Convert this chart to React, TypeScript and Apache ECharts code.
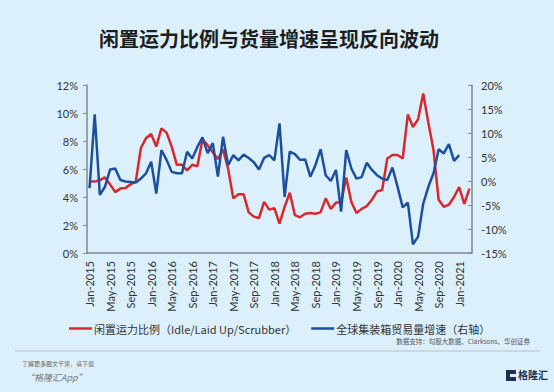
import React, { useEffect, useRef } from "react";
import * as echarts from "echarts";

const MONTHS = ["Jan", "Feb", "Mar", "Apr", "May", "Jun", "Jul", "Aug", "Sep", "Oct", "Nov", "Dec"];
const YEARS = [2015, 2016, 2017, 2018, 2019, 2020, 2021];
const LAST_MONTH_2021 = 3; // through Mar-2021

const categories: string[] = [];
for (const y of YEARS) {
  for (let i = 0; i < 12; i++) {
    if (y === 2021 && i >= LAST_MONTH_2021) break;
    categories.push(`${MONTHS[i]}-${y}`);
  }
}

const TITLE = "闲置运力比例与货量增速呈现反向波动";
const RED_NAME = "闲置运力比例（Idle/Laid Up/Scrubber）";
const BLUE_NAME = "全球集装箱贸易量增速（右轴）";
const SOURCE = "数据支持：勾股大数据、Clarksons、华创证券";

// idle capacity ratio, % (left axis)
const idleRatio = [
  5.1, 5.1, 5.2, 5.4, 4.9, 4.35, 4.6, 4.65, 4.9, 5.1,
  7.5, 8.2, 8.5, 7.6, 8.9, 8.6, 7.6, 6.3, 6.3, 5.9,
  6.3, 6.2, 8.1, 7.7, 7.2, 6.7, 7.4, 6.0, 3.9, 4.2,
  4.2, 2.9, 2.6, 2.5, 3.65, 3.1, 3.2, 2.1, 3.3, 4.3,
  2.7, 2.55, 2.8, 2.85, 2.8, 2.9, 3.9, 3.15, 3.6, 3.6,
  5.4, 3.65, 2.85, 3.15, 3.35, 3.8, 4.4, 4.5, 6.75, 7.0,
  7.0, 6.75, 9.9, 9.0, 9.55, 11.4, 9.3, 7.35, 3.8, 3.3,
  3.45, 4.0, 4.7, 3.5, 4.6,
];

// global container trade volume growth, % (right axis)
const tradeGrowth = [
  -1.5, 13.9, -2.9, -1.2, 2.4, 2.6, 0.2, -0.1, -0.2, -0.3,
  0.5, 1.6, 4.0, -2.6, 6.45, 4.4, 1.9, 1.6, 1.6, 6.1,
  4.7, 7.1, 9.1, 5.8, 7.9, 0.9, 9.2, 3.3, 5.4, 4.3,
  5.5, 4.8, 3.9, 2.4, 4.8, 5.4, 4.3, 12.0, -3.3, 6.1,
  5.6, 4.4, 4.5, 0.9, 3.3, 6.6, 1.2, 0.0, 2.3, -6.4,
  6.45, 2.6, 0.5, 0.8, 3.8, 2.3, 1.2, 0.5, 0.2, 2.8,
  -1.2, -5.5, -4.5, -13.2, -11.6, -4.7, -1.2, 1.6, 6.6, 5.75,
  7.7, 4.2, 5.4,
];

const LEFT_MIN = 0, LEFT_MAX = 12, LEFT_STEP = 2;
const RIGHT_MIN = -15, RIGHT_MAX = 20, RIGHT_STEP = 5;

const RED = "#d8282f";
const BLUE = "#1d4f9f";
const AXIS = "#7f8a90";
const LABEL = "#333333";
const FONT = "Lato, 'Noto Sans', sans-serif";
const CJK = "'Noto Sans CJK SC', sans-serif";

export default function App() {
  const ref = useRef<HTMLDivElement>(null);
  useEffect(() => {
    document.body.style.margin = "0";
    const chart = echarts.init(ref.current!, undefined, { renderer: "svg" });
    chart.setOption({
      animation: false,
      backgroundColor: "#dcf0fb",
      textStyle: { fontFamily: FONT },
      title: {
        text: TITLE,
        left: 94,
        top: 23,
        textStyle: {
          fontFamily: CJK,
          fontSize: 20,
          fontWeight: "bold",
          color: "#1e1e1e",
        },
      },
      grid: { left: 87, right: 82, top: 85, bottom: 139 },
      legend: {
        left: 64,
        top: 318,
        itemGap: 15,
        itemWidth: 23,
        itemHeight: 2.5,
        icon: "rect",
        textStyle: {
          fontFamily: CJK,
          fontSize: 11,
          color: LABEL,
          padding: [0, 0, 0, -3],
        },
        data: [RED_NAME, BLUE_NAME],
      },
      xAxis: {
        type: "category",
        data: categories,
        boundaryGap: true,
        axisLine: { lineStyle: { color: AXIS, width: 1.5 } },
        axisTick: { interval: 3, length: 3, lineStyle: { color: AXIS } },
        axisLabel: {
          interval: 3,
          rotate: 90,
          margin: 8,
          fontSize: 11,
          color: LABEL,
          fontFamily: FONT,
        },
        splitLine: { show: false },
      },
      yAxis: [
        {
          type: "value",
          min: LEFT_MIN,
          max: LEFT_MAX,
          interval: LEFT_STEP,
          axisLine: { show: true, lineStyle: { color: AXIS, width: 1.5 } },
          axisTick: { show: true, length: 4, lineStyle: { color: AXIS } },
          axisLabel: { formatter: "{value}%", fontSize: 11, color: LABEL, margin: 9, fontFamily: FONT },
          splitLine: { show: false },
        },
        {
          type: "value",
          min: RIGHT_MIN,
          max: RIGHT_MAX,
          interval: RIGHT_STEP,
          position: "right",
          axisLine: { show: true, lineStyle: { color: AXIS, width: 1.5 } },
          axisTick: { show: true, inside: true, length: 4, lineStyle: { color: AXIS } },
          axisLabel: { formatter: "{value}%", fontSize: 11, color: LABEL, margin: 9, fontFamily: FONT },
          splitLine: { show: false },
        },
      ],
      series: [
        {
          name: RED_NAME,
          type: "line",
          yAxisIndex: 0,
          data: idleRatio,
          showSymbol: false,
          symbol: "none",
          lineStyle: { color: RED, width: 2.5 },
          itemStyle: { color: RED },
        },
        {
          name: BLUE_NAME,
          type: "line",
          yAxisIndex: 1,
          data: tradeGrowth,
          showSymbol: false,
          symbol: "none",
          lineStyle: { color: BLUE, width: 2.5 },
          itemStyle: { color: BLUE },
        },
      ],
      graphic: [
        {
          type: "text",
          right: 24,
          top: 338,
          style: { text: SOURCE, fontSize: 6.5, fill: "#555", fontFamily: CJK },
        },
        {
          type: "line",
          shape: { x1: 15, y1: 351, x2: 540, y2: 351 },
          style: { stroke: "#b4c2ca", lineWidth: 1 },
        },
        {
          type: "text",
          left: 22,
          top: 360,
          style: { text: "了解更多图文干货，请下载", fontSize: 6, fill: "#666", fontFamily: CJK },
        },
        {
          type: "text",
          left: 25,
          top: 373,
          style: { text: "“格隆汇App”", fontSize: 9, fill: "#777", fontStyle: "italic", fontFamily: CJK },
        },
        {
          type: "rect",
          shape: { x: 506, y: 370, width: 10, height: 11 },
          style: { fill: "#1f2f4f" },
        },
        {
          type: "rect",
          shape: { x: 510, y: 374, width: 6, height: 3 },
          style: { fill: "#dcf0fb" },
        },
        {
          type: "text",
          left: 518,
          top: 369,
          style: { text: "格隆汇", fontSize: 10, fontWeight: "bold", fill: "#1f2f4f", fontFamily: CJK },
        },
      ],
    });
    return () => chart.dispose();
  }, []);
  return <div ref={ref} style={{ position: "fixed", left: 0, top: 0, width: 554, height: 392 }} />;
}
